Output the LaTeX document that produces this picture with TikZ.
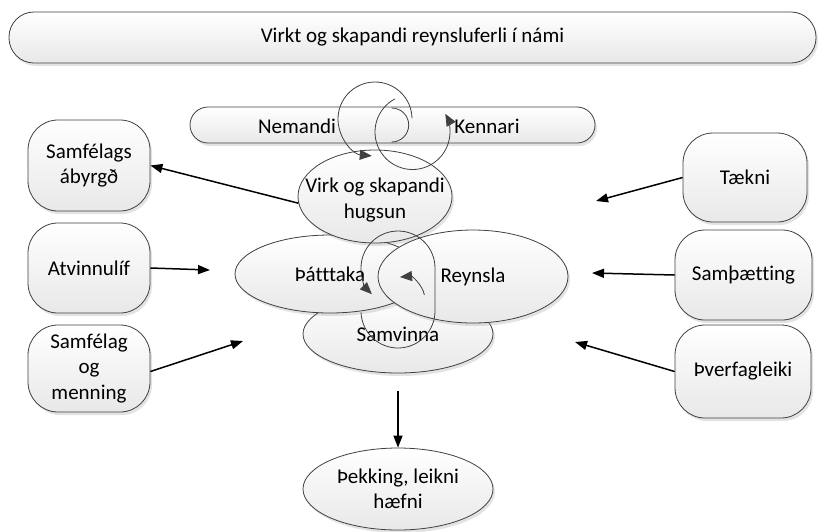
\documentclass[tikz,border=0pt]{standalone}
\usepackage{fontspec}
\setmainfont{Carlito}[Ligatures=NoCommon]
\usetikzlibrary{shapes.geometric,arrows.meta,shadows}
\begin{document}
\begin{tikzpicture}[x=1pt,y=-1pt,
  every node/.style={font=\fontsize{21}{25.5}\selectfont, text=black},
  softfill/.style={top color=white, bottom color=black!9, draw=black!75, line width=0.8pt,
    drop shadow={opacity=0.22, shadow xshift=2pt, shadow yshift=-3pt}},
  rbox/.style={softfill, rectangle, rounded corners=30pt, align=center, inner sep=0pt},
  ell/.style={softfill, ellipse, inner sep=0pt, align=center},
  lbl/.style={align=center, inner sep=0pt},
  conn/.style={line width=1.5pt, -{Triangle[length=12pt,width=9pt]}},
  circline/.style={draw=black!75, line width=0.8pt},
  circ/.style={circline, -{Triangle[length=12pt,width=10pt]}, black!75},
]
\useasboundingbox (0,0) rectangle (818,531);

% title and bar
\node[rbox, rounded corners=25pt, minimum width=807pt, minimum height=51pt] (title) at (412.5,37.5) {Virkt og skapandi reynsluferli í námi};
\node[rbox, rounded corners=18pt, minimum width=405pt, minimum height=36pt] (bar) at (392.5,125) {};
\node[lbl] (nem) at (297,126) {Nemandi};
\node[lbl] (ken) at (487,126) {Kennari};

% left boxes
\node[rbox, minimum width=122pt, minimum height=91pt] (sab) at (89,165.5) {Samfélags\\ábyrgð};
\node[rbox, minimum width=122pt, minimum height=90pt] (atv) at (89,268) {Atvinnulíf};
\node[rbox, minimum width=122pt, minimum height=87pt] (som) at (89,368.5) {Samfélag\\og\\menning};

% right boxes
\node[rbox, minimum width=124pt, minimum height=89pt] (tak) at (745,177.5) {Tækni};
\node[rbox, minimum width=137pt, minimum height=90pt] (smb) at (743.5,275) {Samþætting};
\node[rbox, minimum width=136pt, minimum height=93pt] (thv) at (743,371.5) {Þverfagleiki};

% ellipses
\node[ell, minimum width=190pt, minimum height=78pt] (samv) at (398,334) {Samvinna};
\node[ell, minimum width=190pt, minimum height=78pt] (patt) at (330,274) {Þátttaka};
\node[ell, minimum width=154pt, minimum height=93pt] (virk) at (375,196.5) {};
\node[lbl] (virkt) at (375,200) {Virk og skapandi\\hugsun};
\node[ell, minimum width=190pt, minimum height=93pt] (reyn) at (473,276.5) {Reynsla};
\node[ell, minimum width=190pt, minimum height=82pt] (thek) at (398,489) {Þekking, leikni\\hæfni};

% connectors
\coordinate (e2) at (210,270);
\coordinate (e3) at (243,341);
\coordinate (e4) at (596,201);
\coordinate (e5) at (592,273);
\coordinate (e6) at (575,342);
\coordinate (e7) at (398,391);
\draw[conn] (virk.185) -- (sab.east);
\draw[conn] (atv.east) -- (e2);
\draw[conn] ([yshift=-3pt]som.east) -- (e3);
\draw[conn] (tak.west) -- (e4);
\draw[conn] (smb.west) -- (e5);
\draw[conn] (thv.west) -- (e6);
\draw[conn] (e7) -- (thek.north);

% circular arrows (top)
\coordinate (c1) at (375,119);
\coordinate (c2) at (391.7,125);
\coordinate (c3) at (412.5,132);
\draw[circ] ([shift={(1:37pt)}]c1) arc[start angle=1, end angle=265, radius=37pt];
\draw[circline] ([shift={(90:17pt)}]c2) arc[start angle=90, end angle=-90, radius=17pt];
\draw[circ] ([shift={(118:37.5pt)}]c3) arc[start angle=118, end angle=389, radius=37.5pt];

% circular arrows (middle)
\coordinate (c4) at (398,311);
\coordinate (c5) at (398,268);
\coordinate (c6) at (402,300);
\draw[circ] ([shift={(182:37pt)}]c4) arc[start angle=182, end angle=360, radius=37pt]
  -- ([shift={(0:37pt)}]c5) arc[start angle=0, end angle=225, radius=37pt];
\draw[circ] ([shift={(13:23pt)}]c6) arc[start angle=13, end angle=95, radius=23pt];
\end{tikzpicture}
\end{document}
